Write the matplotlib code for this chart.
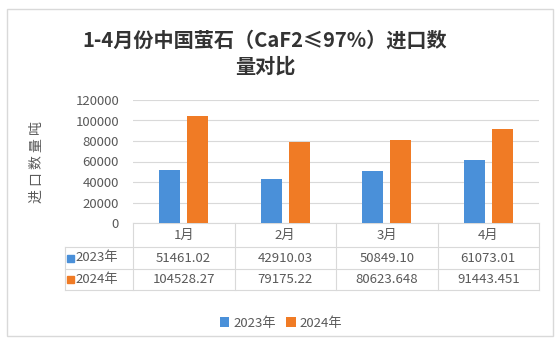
import numpy as np
import matplotlib.pyplot as plt
from matplotlib.patches import Rectangle

plt.rcParams['font.family'] = ['Noto Sans CJK SC', 'DejaVu Sans']

months = ['1月', '2月', '3月', '4月']
series = ['2023年', '2024年']
v2023 = [51461.02, 42910.03, 50849.10, 61073.01]
v2024 = [104528.27, 79175.22, 80623.648, 91443.451]
labels2023 = ['51461.02', '42910.03', '50849.10', '61073.01']
labels2024 = ['104528.27', '79175.22', '80623.648', '91443.451']

blue = '#4A90D9'
orange = '#F07B25'
grey = '#595959'
line_c = '#D9D9D9'

W, H = 556, 342
fig = plt.figure(figsize=(W / 100, H / 100), dpi=100)

def fx(px):
    return px / W

def fy(py):
    return 1 - py / H

# chart border
fig.patches.append(Rectangle((fx(7), fy(336)), fx(553) - fx(7), fy(9) - fy(336),
                             transform=fig.transFigure, fill=False,
                             edgecolor=line_c, linewidth=1))

fig.text(fx(265), fy(53), '1-4月份中国萤石（CaF2≤97%）进口数\n量对比',
         ha='center', va='center', fontsize=14.5, fontweight='bold',
         color='#333333', linespacing=1.3)

# bar area
left, right, top, bottom = 133, 539, 100, 223
ax = fig.add_axes([fx(left), fy(bottom), fx(right) - fx(left), fy(top) - fy(bottom)])
x = np.arange(len(months))
w = 0.207
b1 = ax.bar(x - 0.138, v2023, w, color=blue, label=series[0], zorder=3)
b2 = ax.bar(x + 0.138, v2024, w, color=orange, label=series[1], zorder=3)
ax.set_xlim(-0.5, 3.5)
ax.set_ylim(0, 120000)
ax.set_yticks(np.arange(0, 120001, 20000))
ax.yaxis.grid(True, color=line_c, linewidth=0.8, zorder=0)
ax.set_xticks([])
ax.tick_params(axis='y', length=0, pad=10, labelsize=9.5, labelcolor=grey)
for s in ['top', 'right', 'left']:
    ax.spines[s].set_visible(False)
ax.spines['bottom'].set_color(line_c)

fig.text(fx(37), fy(162), '进 口 数 量 吨', rotation=90, ha='center', va='center',
         fontsize=10, color=grey)

# data table under the bars
tleft, tbottom = 65, 290
col_w = (right - left) / 4
tax = fig.add_axes([fx(tleft), fy(tbottom), fx(right) - fx(tleft), fy(bottom) - fy(tbottom)])
tax.set_xlim(-0.5 - (left - tleft) / col_w, 3.5)
tax.set_ylim(0, 67)
tax.axis('off')
xl = -0.5 - (left - tleft) / col_w
rows_y = [67, 43, 21, 0]
for i in range(5):
    tax.plot([i - 0.5, i - 0.5], [0, 67], color=line_c, lw=0.8, clip_on=False)
tax.plot([xl, xl], [0, 43], color=line_c, lw=0.8, clip_on=False)
for yv in rows_y[1:]:
    tax.plot([xl, 3.5], [yv, yv], color=line_c, lw=0.8, clip_on=False)

for i, m in enumerate(months):
    tax.text(i, 55, m, ha='center', va='center', fontsize=9.5, color=grey)
    tax.text(i, 32, labels2023[i], ha='center', va='center', fontsize=9.5, color=grey)
    tax.text(i, 10.5, labels2024[i], ha='center', va='center', fontsize=9.5, color=grey)

for yc, name, c in [(32, series[0], blue), (10.5, series[1], orange)]:
    tax.add_patch(Rectangle((xl + 2 / col_w, yc - 3.5), 7 / col_w, 7, color=c, clip_on=False))
    tax.text(xl + 10 / col_w, yc, name, ha='left', va='center', fontsize=9.5, color=grey)

fig.legend(handles=[b1, b2], loc='center', bbox_to_anchor=(fx(281), fy(323)),
           ncol=2, frameon=False, fontsize=9.5, handlelength=0.7, handleheight=0.7,
           handletextpad=0.3, columnspacing=0.8, labelcolor=grey)

fig.savefig('out.png', dpi=100)
